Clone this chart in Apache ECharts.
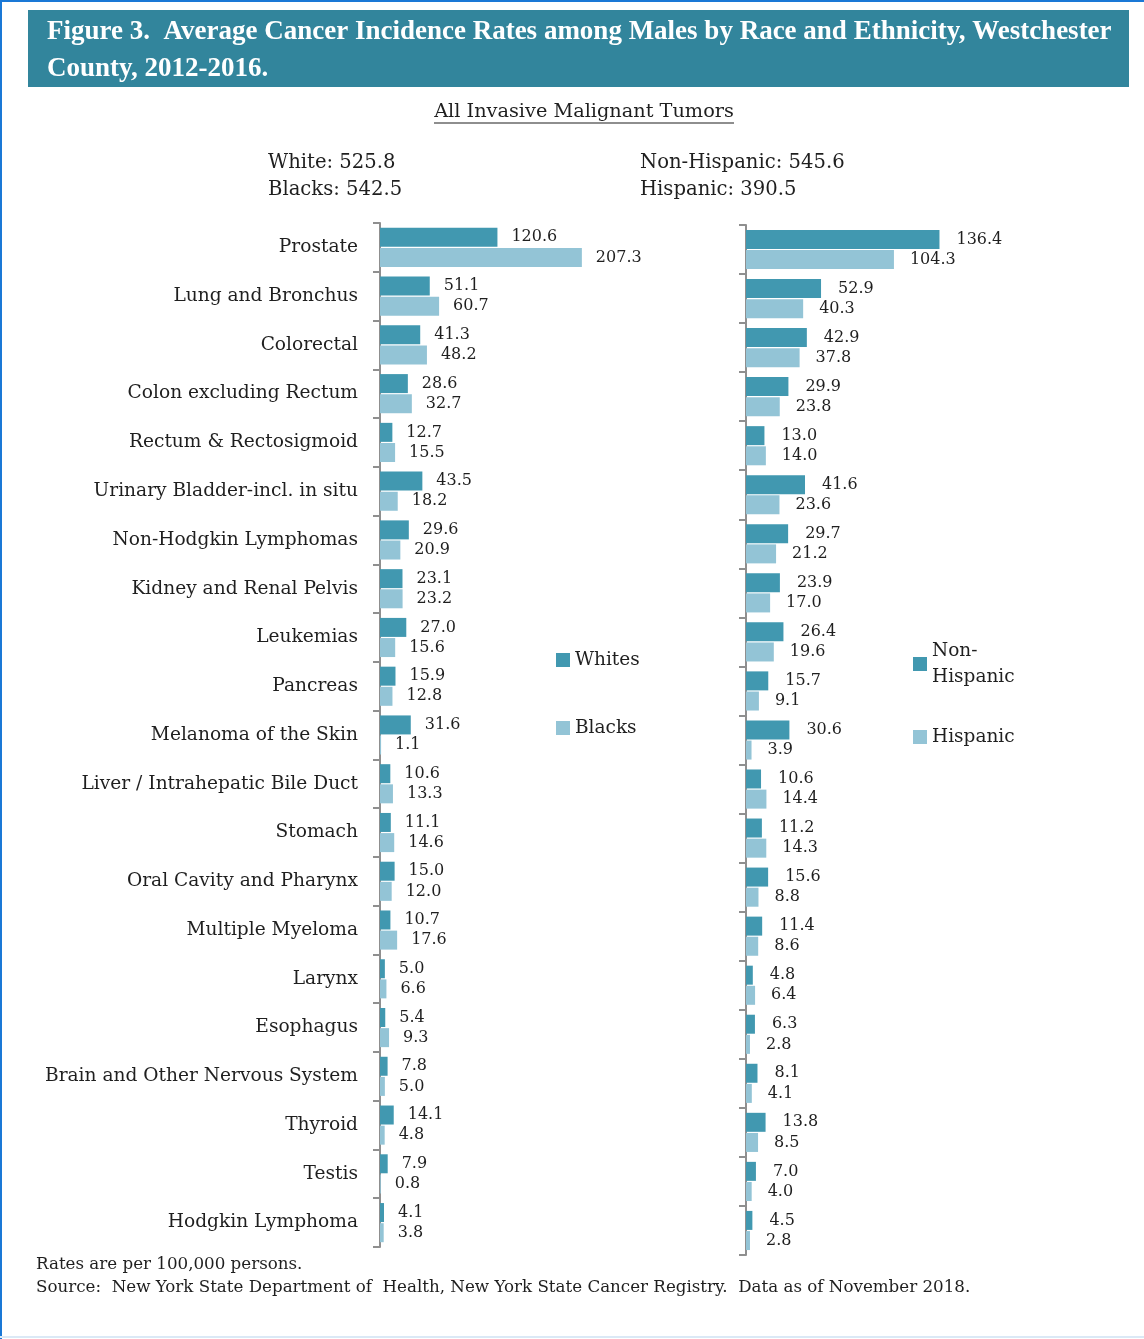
<!DOCTYPE html>
<html>
<head>
<meta charset="utf-8">
<script src="https://cdn.jsdelivr.net/npm/echarts@6/dist/echarts.min.js"></script>
<style>
html,body{margin:0;padding:0;background:#fff;}
#chart{width:1144px;height:1339px;}
</style>
</head>
<body>
<div id="chart"></div>
<script>
const categories = ['Prostate','Lung and Bronchus','Colorectal','Colon excluding Rectum','Rectum & Rectosigmoid','Urinary Bladder-incl. in situ','Non-Hodgkin Lymphomas','Kidney and Renal Pelvis','Leukemias','Pancreas','Melanoma of the Skin','Liver / Intrahepatic Bile Duct','Stomach','Oral Cavity and Pharynx','Multiple Myeloma','Larynx','Esophagus','Brain and Other Nervous System','Thyroid','Testis','Hodgkin Lymphoma'];
const whites = [120.6,51.1,41.3,28.6,12.7,43.5,29.6,23.1,27.0,15.9,31.6,10.6,11.1,15.0,10.7,5.0,5.4,7.8,14.1,7.9,4.1];
const blacks = [207.3,60.7,48.2,32.7,15.5,18.2,20.9,23.2,15.6,12.8,1.1,13.3,14.6,12.0,17.6,6.6,9.3,5.0,4.8,0.8,3.8];
const nonHispanic = [136.4,52.9,42.9,29.9,13.0,41.6,29.7,23.9,26.4,15.7,30.6,10.6,11.2,15.6,11.4,4.8,6.3,8.1,13.8,7.0,4.5];
const hispanic = [104.3,40.3,37.8,23.8,14.0,23.6,21.2,17.0,19.6,9.1,3.9,14.4,14.3,8.8,8.6,6.4,2.8,4.1,8.5,4.0,2.8];
const totalsRace = ['White: 525.8','Blacks: 542.5'];
const totalsEth = ['Non-Hispanic: 545.6','Hispanic: 390.5'];

const SERIF = '"DejaVu Serif", serif';
const DARK = '#4198B0';
const LIGHT = '#93C4D6';
const TXT = '#1f1f1f';

const chart = echarts.init(document.getElementById('chart'));

function yAxisCfg(gridIndex, showLabels){
  return {
    type:'category', gridIndex, data:categories, inverse:true,
    axisLine:{show:true, lineStyle:{color:'#8f8f8f', width:2}},
    axisTick:{show:true, length:7, lineStyle:{color:'#8f8f8f', width:2}},
    axisLabel:{show:showLabels, fontFamily:SERIF, fontSize:18.6, color:TXT, margin:22}
  };
}
function xAxisCfg(gridIndex, max){
  return {type:'value', gridIndex, min:0, max, show:false, splitLine:{show:false}};
}
function barSeries(name, data, color, idx, dist){
  return {
    name, type:'bar', data, xAxisIndex:idx, yAxisIndex:idx,
    barWidth:19, barGap:'6%', clip:false,
    itemStyle:{color},
    label:{show:true, position:'right', distance:dist, fontFamily:SERIF, fontSize:16, color:TXT,
      formatter:p=>p.value.toFixed(1)}
  };
}

const option = {
  backgroundColor:'#fff',
  animation:false,
  grid:[
    {left:380, top:223, width:260, height:1024},
    {left:746, top:225, width:200, height:1030}
  ],
  xAxis:[xAxisCfg(0,267), xAxisCfg(1,141)],
  yAxis:[yAxisCfg(0,true), yAxisCfg(1,false)],
  legend:[
    {data:['Whites','Blacks'], orient:'vertical', left:551, top:645, itemWidth:14, itemHeight:14, itemGap:48,
     icon:'rect', textStyle:{fontFamily:SERIF, fontSize:18.5, color:TXT, lineHeight:20}},
    {data:['Non-Hispanic','Hispanic'], orient:'vertical', left:908, top:633, itemWidth:14, itemHeight:14, itemGap:34,
     icon:'rect', formatter:n=>n==='Non-Hispanic'?'Non-\nHispanic':n,
     textStyle:{fontFamily:SERIF, fontSize:18.5, color:TXT, lineHeight:26}}
  ],
  series:[
    barSeries('Whites', whites, DARK, 0, 14),
    barSeries('Blacks', blacks, LIGHT, 0, 14),
    barSeries('Non-Hispanic', nonHispanic, DARK, 1, 17),
    barSeries('Hispanic', hispanic, LIGHT, 1, 16)
  ],
  graphic:[
    {type:'line', shape:{x1:1,y1:0,x2:1,y2:1339}, style:{stroke:'#1a78d6', lineWidth:2}},
    {type:'line', shape:{x1:0,y1:1,x2:1144,y2:1}, style:{stroke:'#1a78d6', lineWidth:2}},
    {type:'line', shape:{x1:0,y1:1337,x2:1144,y2:1337}, style:{stroke:'#dbe9f6', lineWidth:2}},
    {type:'rect', shape:{x:28,y:10,width:1101,height:77}, style:{fill:'#32859C'}},
    {type:'text', x:47, y:32, style:{text:'Figure 3.  Average Cancer Incidence Rates among Males by Race and Ethnicity, Westchester',
      fill:'#fff', font:'bold 27px "Liberation Serif", serif', textVerticalAlign:'middle'}},
    {type:'text', x:47, y:69, style:{text:'County, 2012-2016.',
      fill:'#fff', font:'bold 27px "Liberation Serif", serif', textVerticalAlign:'middle'}},
    {type:'text', x:584, y:112, style:{text:'All Invasive Malignant Tumors', fill:TXT,
      font:'19.3px "DejaVu Serif", serif', textAlign:'center', textVerticalAlign:'middle'}},
    {type:'line', shape:{x1:434,y1:123,x2:734,y2:123}, style:{stroke:TXT, lineWidth:1.2}},
    {type:'text', x:268, y:163, style:{text:totalsRace[0], fill:TXT, font:'19.6px "DejaVu Serif", serif', textVerticalAlign:'middle'}},
    {type:'text', x:268, y:190, style:{text:totalsRace[1], fill:TXT, font:'19.6px "DejaVu Serif", serif', textVerticalAlign:'middle'}},
    {type:'text', x:640, y:163, style:{text:totalsEth[0], fill:TXT, font:'19.6px "DejaVu Serif", serif', textVerticalAlign:'middle'}},
    {type:'text', x:640, y:190, style:{text:totalsEth[1], fill:TXT, font:'19.6px "DejaVu Serif", serif', textVerticalAlign:'middle'}},
    {type:'text', x:36, y:1265, style:{text:'Rates are per 100,000 persons.', fill:TXT, font:'16.7px "DejaVu Serif", serif', textVerticalAlign:'middle'}},
    {type:'text', x:36, y:1288, style:{text:'Source:  New York State Department of  Health, New York State Cancer Registry.  Data as of November 2018.', fill:TXT, font:'16.7px "DejaVu Serif", serif', textVerticalAlign:'middle'}}
  ]
};
chart.setOption(option);
</script>
</body>
</html>
